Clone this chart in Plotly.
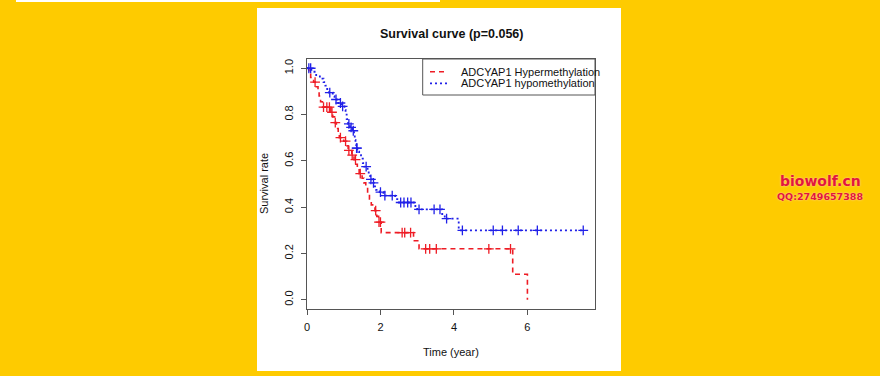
import plotly.graph_objects as go
import numpy as np

# ---- data ----
hyper_name = "ADCYAP1 Hypermethylation"
hyper_times = [0, 0.05, 0.10, 0.18, 0.25, 0.30, 0.33, 0.37, 0.42, 0.65, 0.70, 0.75, 0.80, 0.85, 0.88,
               1.00, 1.08, 1.12, 1.22, 1.28, 1.33, 1.37, 1.42, 1.50, 1.55, 1.60, 1.65, 1.70, 1.75,
               1.85, 1.90, 1.95, 2.02, 2.90, 3.05, 5.60, 6.00]
hyper_surv = [1.0, 0.98, 0.96, 0.94, 0.92, 0.90, 0.88, 0.855, 0.832, 0.81, 0.79, 0.765, 0.74, 0.72, 0.70,
              0.685, 0.665, 0.645, 0.625, 0.605, 0.585, 0.565, 0.545, 0.525, 0.505, 0.485, 0.46, 0.435, 0.41,
              0.385, 0.36, 0.335, 0.29, 0.255, 0.22, 0.11, 0.0]
hyper_censor = [0.22, 0.45, 0.54, 0.61, 0.68, 0.77, 0.91, 1.05, 1.14, 1.23, 1.32, 1.45, 1.87, 1.96,
                2.00, 2.59, 2.66, 2.82, 3.23, 3.34, 3.52, 4.95, 5.54]

hypo_name = "ADCYAP1 hypomethylation"
hypo_times = [0, 0.12, 0.25, 0.35, 0.45, 0.50, 0.55, 0.60, 0.70, 0.75, 0.85, 0.95, 1.02, 1.05, 1.08,
              1.12, 1.17, 1.23, 1.28, 1.30, 1.32, 1.34, 1.37, 1.42, 1.47, 1.52, 1.56, 1.65, 1.68, 1.72,
              1.78, 1.82, 1.88, 1.98, 2.08, 2.40, 2.50, 2.95, 3.00, 3.68, 3.75, 4.13]
hypo_surv = [1.0, 0.985, 0.97, 0.955, 0.94, 0.925, 0.91, 0.895, 0.88, 0.865, 0.85, 0.835, 0.82, 0.80, 0.78,
             0.76, 0.745, 0.73, 0.71, 0.69, 0.67, 0.655, 0.64, 0.625, 0.61, 0.59, 0.575, 0.555, 0.535, 0.52,
             0.505, 0.49, 0.475, 0.465, 0.45, 0.435, 0.42, 0.405, 0.39, 0.37, 0.35, 0.30]
hypo_censor = [0.05, 0.10, 0.62, 0.79, 0.91, 0.97, 1.14, 1.20, 1.26, 1.35, 1.36, 1.61, 1.74, 1.81,
               2.00, 2.12, 2.32, 2.55, 2.64, 2.74, 2.83, 3.05, 3.46, 3.62, 3.80, 4.23, 5.07, 5.32,
               5.75, 6.27, 7.52]

title_text = "Survival curve (p=0.056)"
x_label = "Time (year)"
y_label = "Survival rate"
x_ticks = [0, 2, 4, 6]
y_ticks = [0.0, 0.2, 0.4, 0.6, 0.8, 1.0]

RED = "#ee1c25"
BLUE = "#2020e8"


def step_at(times, surv, t):
    idx = np.searchsorted(times, t, side="right") - 1
    return surv[max(idx, 0)]


fig = go.Figure()

# hyper curve
fig.add_trace(go.Scatter(x=hyper_times, y=hyper_surv, mode="lines", line_shape="hv",
                         line=dict(color=RED, width=1.6, dash="5px,4px"),
                         name=hyper_name, showlegend=False, hoverinfo="skip"))
fig.add_trace(go.Scatter(x=hyper_censor, y=[step_at(hyper_times, hyper_surv, t) for t in hyper_censor],
                         mode="markers", marker=dict(symbol="cross-thin", size=7,
                                                     line=dict(color=RED, width=1.3)),
                         name=hyper_name, showlegend=False, hoverinfo="skip"))

# hypo curve (extend to last censor)
hx = hypo_times + [max(hypo_censor)]
hy = hypo_surv + [hypo_surv[-1]]
fig.add_trace(go.Scatter(x=hx, y=hy, mode="lines", line_shape="hv",
                         line=dict(color=BLUE, width=1.8, dash="2px,3px"),
                         name=hypo_name, showlegend=False, hoverinfo="skip"))
fig.add_trace(go.Scatter(x=hypo_censor, y=[step_at(hypo_times, hypo_surv, t) for t in hypo_censor],
                         mode="markers", marker=dict(symbol="cross-thin", size=7,
                                                     line=dict(color=BLUE, width=1.3)),
                         name=hypo_name, showlegend=False, hoverinfo="skip"))

W, H = 880, 376
L, R, T, B = 307, 285, 59, 67
PW, PH = W - L - R, H - T - B


def px(xp):
    return (xp - L) / PW


def py(yp):
    return (H - B - yp) / PH


FONT = "Liberation Sans, Arial, Helvetica, sans-serif"
shapes = []
# white panel
shapes.append(dict(type="rect", xref="paper", yref="paper", x0=px(257), x1=px(621), y0=py(371), y1=py(8),
                   fillcolor="white", line=dict(width=0), layer="below"))
# white stripe at top
shapes.append(dict(type="rect", xref="paper", yref="paper", x0=px(16), x1=px(440), y0=py(2), y1=py(0),
                   fillcolor="white", line=dict(width=0), layer="below"))
# legend box
shapes.append(dict(type="rect", xref="paper", yref="paper", x0=px(422.7), x1=1.0, y0=py(95), y1=1.0,
                   fillcolor="rgba(0,0,0,0)", line=dict(color="#555", width=1)))
shapes.append(dict(type="line", xref="paper", yref="paper", x0=px(430), x1=px(447), y0=py(71.7), y1=py(71.7),
                   line=dict(color=RED, width=1.6, dash="5px,4px")))
shapes.append(dict(type="line", xref="paper", yref="paper", x0=px(430), x1=px(447), y0=py(83.3), y1=py(83.3),
                   line=dict(color=BLUE, width=1.8, dash="2px,3px")))

annotations = [
    dict(text=hyper_name, xref="paper", yref="paper", x=px(459), y=py(71.7), xanchor="left", yanchor="middle",
         showarrow=False, font=dict(size=11, color="#111", family=FONT)),
    dict(text=hypo_name, xref="paper", yref="paper", x=px(459), y=py(83.3), xanchor="left", yanchor="middle",
         showarrow=False, font=dict(size=11, color="#111", family=FONT)),
    dict(text="<b>" + title_text + "</b>", xref="paper", yref="paper", x=px(451), y=py(34),
         xanchor="center", yanchor="middle", showarrow=False, font=dict(size=12.5, color="#111", family=FONT)),
    dict(text=x_label, xref="paper", yref="paper", x=px(451), y=py(352), xanchor="center", yanchor="middle",
         showarrow=False, font=dict(size=11, color="#111", family=FONT)),
    dict(text=y_label, xref="paper", yref="paper", x=px(264), y=py(184), xanchor="center", yanchor="middle",
         textangle=-90, showarrow=False, font=dict(size=11, color="#111", family=FONT)),
    dict(text="<b>biowolf.cn</b>", xref="paper", yref="paper", x=px(820), y=py(181), xanchor="center",
         yanchor="middle", showarrow=False,
         font=dict(size=14, color="#e3163b", family="DejaVu Sans, sans-serif", shadow="0px 0px 2px #ffd0c0")),
    dict(text="<b>QQ:2749657388</b>", xref="paper", yref="paper", x=px(820), y=py(196), xanchor="center",
         yanchor="middle", showarrow=False,
         font=dict(size=9.5, color="#e3163b", family="DejaVu Sans, sans-serif", shadow="0px 0px 2px #ffd0c0")),
]

fig.update_layout(
    width=W, height=H,
    margin=dict(l=L, r=R, t=T, b=B, pad=0),
    paper_bgcolor="#fecb00",
    plot_bgcolor="white",
    shapes=shapes,
    annotations=annotations,
    showlegend=False,
    font=dict(family=FONT, size=11, color="#111"),
)
fig.update_xaxes(range=[0, 7.84], tickvals=x_ticks, ticktext=[str(v) for v in x_ticks],
                 showgrid=False, zeroline=False, showline=True, mirror=True, linecolor="#555", linewidth=1.2,
                 ticks="outside", ticklen=5, tickcolor="#555", tickwidth=1.2,
                 tickfont=dict(size=11, color="#111"), ticklabelstandoff=3)
fig.update_yaxes(range=[-0.04, 1.04], tickvals=y_ticks, ticktext=[f"{v:.1f}" for v in y_ticks],
                 showgrid=False, zeroline=False, showline=True, mirror=True, linecolor="#555", linewidth=1.2,
                 ticks="outside", ticklen=5, tickcolor="#555", tickwidth=1.2, tickangle=-90,
                 tickfont=dict(size=11, color="#111"), ticklabelstandoff=4)

fig.write_html("out.html", config={"displayModeBar": False},
               post_script="document.body.style.margin='0px';document.body.style.overflow='hidden';")
